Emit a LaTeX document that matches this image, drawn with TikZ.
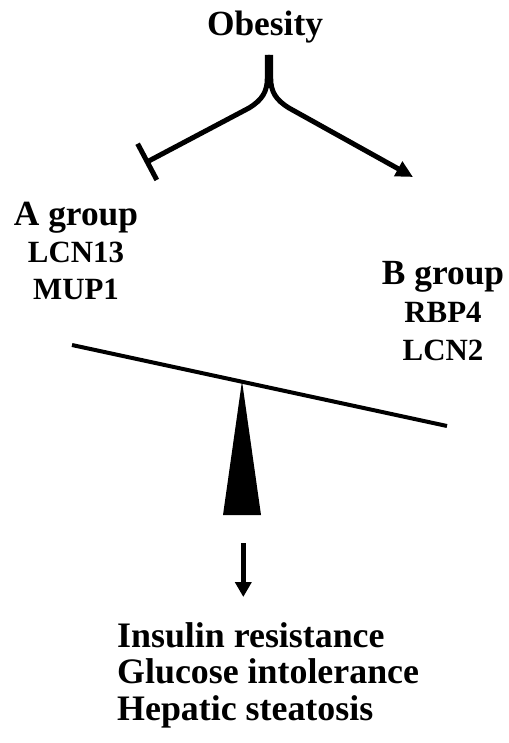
\documentclass[tikz,border=0pt]{standalone}
\usepackage{fontspec}
\setmainfont{Liberation Serif}
\usetikzlibrary{arrows.meta}

\begin{document}
\begin{tikzpicture}[x=1bp,y=-1bp,
  title/.style={font=\bfseries\fontsize{35.5}{40}\selectfont, inner sep=0pt, anchor=base},
  gene/.style={font=\bfseries\fontsize{31}{36}\selectfont, inner sep=0pt, anchor=base},
  outcome/.style={font=\bfseries\fontsize{36}{40}\selectfont, inner sep=0pt, anchor=base west},
  link/.style={line width=5bp, line join=round}
]
\useasboundingbox (0,0) rectangle (509,743);

% labels
\node[title] (obesity) at (265,36) {Obesity};
\node[title] (agroup) at (76,225) {A group};
\node[gene]  (lcn13)  at (76,262) {LCN13};
\node[gene]  (mup1)   at (76,299) {MUP1};
\node[title] (bgroup) at (443,284) {B group};
\node[gene]  (rbp4)   at (443,322) {RBP4};
\node[gene]  (lcn2)   at (443,360) {LCN2};
\node[outcome] (ir) at (117,647) {Insulin resistance};
\node[outcome] (gi) at (117,683) {Glucose intolerance};
\node[outcome] (hs) at (117,720) {Hepatic steatosis};

% fork: inhibition to the left, activation to the right
\coordinate (stemL) at (267.3,55);
\coordinate (stemR) at (270.7,55);
\coordinate (inhibit) at (145,163);
\coordinate (activate) at (413,177);
\draw[link, -{Bar[width=41bp,line width=5bp]}]
  (stemL) -- (267.3,78) .. controls (267.3,92) and (262,100) .. (249,108) -- (inhibit);
\draw[link, -{Triangle[length=17bp,width=16bp]}]
  (stemR) -- (270.7,78) .. controls (270.7,92) and (276,100) .. (289,108) -- (activate);

% balance beam and fulcrum
\coordinate (beamL) at (72,345);
\coordinate (beamR) at (447,426);
\draw[line width=4bp] (beamL) -- (beamR);
\fill (242,381) -- (261,515) -- (223,515) -- cycle;

% outcome arrow
\coordinate (downS) at (243.3,543);
\coordinate (downE) at (243.3,597);
\draw[line width=5.5bp, -{Triangle[length=15bp,width=16bp]}] (downS) -- (downE);
\end{tikzpicture}
\end{document}
